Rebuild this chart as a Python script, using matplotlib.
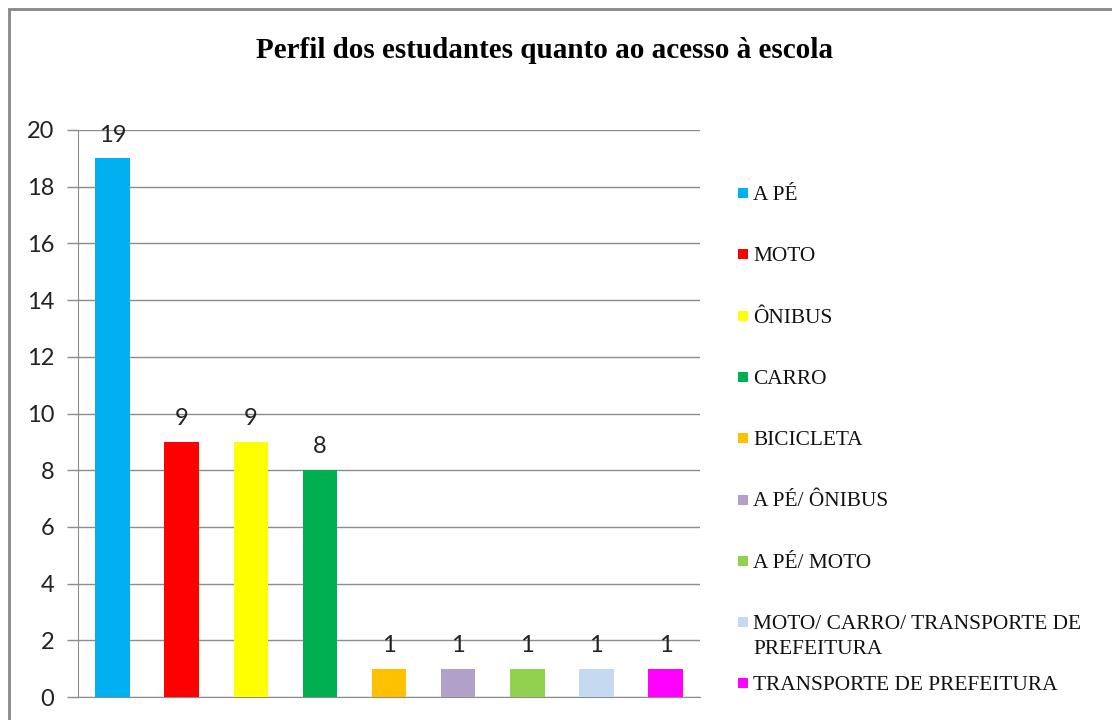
import matplotlib
matplotlib.use("Agg")
import matplotlib.pyplot as plt
from matplotlib.patches import Rectangle

categorias = ["A PÉ", "MOTO", "ÔNIBUS", "CARRO", "BICICLETA", "A PÉ/ ÔNIBUS",
              "A PÉ/ MOTO", "MOTO/ CARRO/ TRANSPORTE DE\nPREFEITURA",
              "TRANSPORTE DE PREFEITURA"]
valores = [19, 9, 9, 8, 1, 1, 1, 1, 1]
cores = ["#00B0F0", "#FF0000", "#FFFF00", "#00B050", "#FFC000", "#B1A0C7",
         "#92D050", "#C5D9F1", "#FF00FF"]
yticks = list(range(0, 21, 2))

W, H = 1112, 720
fig = plt.figure(figsize=(W / 100, H / 100), dpi=100)
ax = fig.add_axes([78 / W, 1 - 697 / H, (700 - 78) / W, (697 - 130) / H])

# moldura externa do grafico
fig.patches.append(Rectangle((9 / W, -0.05), 1.1, 1 - 9 / H + 0.05,
                             transform=fig.transFigure, fill=False,
                             edgecolor="#878787", linewidth=2))

x = list(range(len(valores)))
bars = ax.bar(x, valores, width=0.5, color=cores, zorder=3)
for xi, v in zip(x, valores):
    ax.text(xi, v + 0.45, str(v), ha="center", va="bottom",
            fontsize=17, family="Lato", color="#222222", zorder=4)

ax.set_xlim(-0.5, len(valores) - 0.5)
ax.set_ylim(0, 20)
ax.set_yticks(yticks)
ax.set_xticks([])
ax.yaxis.grid(True, color="#8c8c8c", linewidth=1)
ax.set_axisbelow(True)
for s in ["top", "right"]:
    ax.spines[s].set_visible(False)
for s in ["left", "bottom"]:
    ax.spines[s].set_color("#8c8c8c")
ax.tick_params(axis="y", length=8, width=1, color="#8c8c8c", pad=9,
               labelsize=17, labelcolor="#222222")
for lbl in ax.get_yticklabels():
    lbl.set_family("Lato")

fig.text(544 / W, 1 - 50 / H, "Perfil dos estudantes quanto ao acesso à escola",
         ha="center", va="center", fontsize=21, fontweight="bold",
         family="Liberation Serif")

# legenda no estilo do Excel: cada item alinhado pela primeira linha
leg_y0, leg_step, line_gap = 193, 61.3, 25
for i, (nome, cor) in enumerate(zip(categorias, cores)):
    yc = leg_y0 + i * leg_step
    fig.patches.append(Rectangle((738 / W, 1 - (yc + 5) / H), 10 / W, 10 / H,
                                 transform=fig.transFigure, facecolor=cor,
                                 edgecolor="none"))
    for j, linha in enumerate(nome.split("\n")):
        fig.text(753 / W, 1 - (yc + 7 + j * line_gap) / H, linha, ha="left",
                 va="baseline", fontsize=15.4, family="Liberation Serif",
                 color="#111111")

fig.savefig("out.png", dpi=100)
